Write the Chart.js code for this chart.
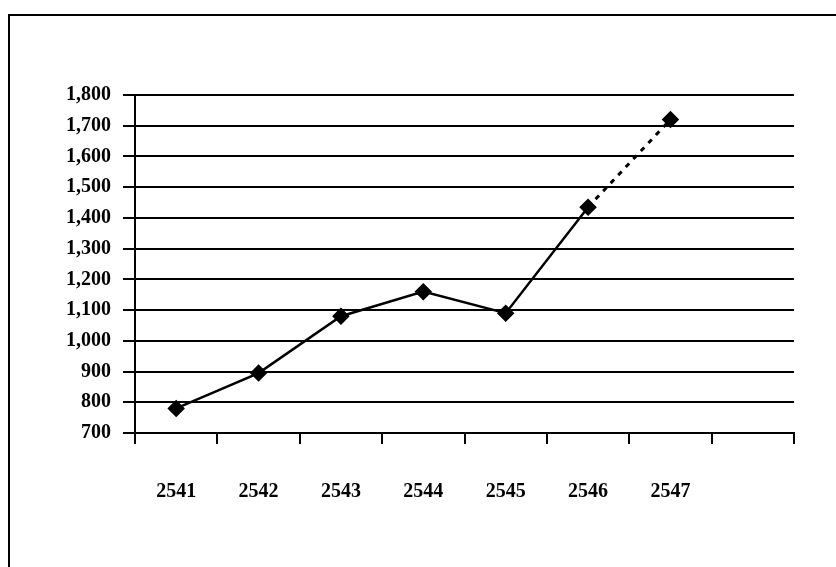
<!DOCTYPE html>
<html>
<head>
<meta charset="utf-8">
<script src="https://cdn.jsdelivr.net/npm/chart.js@4/dist/chart.umd.min.js"></script>
<style>
    html, body { margin: 0; padding: 0; background: #fff; }
    #wrap { position: relative; width: 836px; height: 567px; overflow: hidden; }
    #frame {
        position: absolute; left: 8px; top: 14px; width: 2000px; height: 2000px;
        border-top: 2px solid #000; border-left: 2px solid #000;
    }
    canvas { position: absolute; left: 0; top: 0; }
</style>
</head>
<body>
<div id="wrap">
    <div id="frame"></div>
    <canvas id="chart" width="836" height="567"></canvas>
</div>
<script>
/*=============== YEARLY VALUES CHART ===============*/

// Years (B.E.), last slot left empty like the original axis
const years = ['2541', '2542', '2543', '2544', '2545', '2546', '2547', ''];

// Values
const values = [780, 895, 1080, 1160, 1090, 1435, 1720];

// Y axis range
const yMin = 700;
const yMax = 1800;
const yStep = 100;

// Last segment (2546 -> 2547) is dashed
const dashedFrom = 5;

const tickFont = { family: "'Liberation Serif', 'Times New Roman', serif", size: 20, weight: 'bold' };

document.addEventListener('DOMContentLoaded', () => {
    const ctx = document.getElementById('chart').getContext('2d');
    new Chart(ctx, {
        type: 'line',
        data: {
            labels: years,
            datasets: [{
                data: values,
                borderColor: '#000',
                borderWidth: 2.5,
                backgroundColor: '#000',
                pointStyle: 'rectRot',
                pointRadius: 7,
                pointBackgroundColor: '#000',
                pointBorderColor: '#000',
                tension: 0,
                segment: {
                    borderDash: c => c.p0DataIndex >= dashedFrom ? [5, 6] : undefined,
                    borderWidth: c => c.p0DataIndex >= dashedFrom ? 3 : undefined
                }
            }]
        },
        options: {
            responsive: false,
            animation: false,
            layout: { padding: { top: 95, right: 42, left: 0, bottom: 0 } },
            plugins: {
                legend: { display: false },
                tooltip: { enabled: false }
            },
            scales: {
                x: {
                    type: 'category',
                    offset: true,
                    grid: {
                        offset: true,
                        drawOnChartArea: true,
                        color: c => c.index === years.length ? '#000' : 'rgba(0,0,0,0)',
                        lineWidth: 2,
                        tickColor: '#000',
                        tickWidth: 2,
                        tickLength: 11
                    },
                    border: { display: true, color: '#000', width: 2 },
                    ticks: {
                        color: '#000',
                        font: tickFont,
                        padding: 36,
                        maxRotation: 0,
                        autoSkip: false
                    },
                    afterFit: scale => { scale.height = 567 - 433; }
                },
                y: {
                    min: yMin,
                    max: yMax,
                    grid: {
                        color: '#000',
                        lineWidth: 2,
                        tickLength: 12
                    },
                    border: { display: true, color: '#000', width: 2 },
                    ticks: {
                        stepSize: yStep,
                        color: '#000',
                        font: tickFont,
                        padding: 12,
                        callback: v => v.toLocaleString('en-US')
                    },
                    afterFit: scale => { scale.width = 135; }
                }
            }
        }
    });
});
</script>
</body>
</html>
